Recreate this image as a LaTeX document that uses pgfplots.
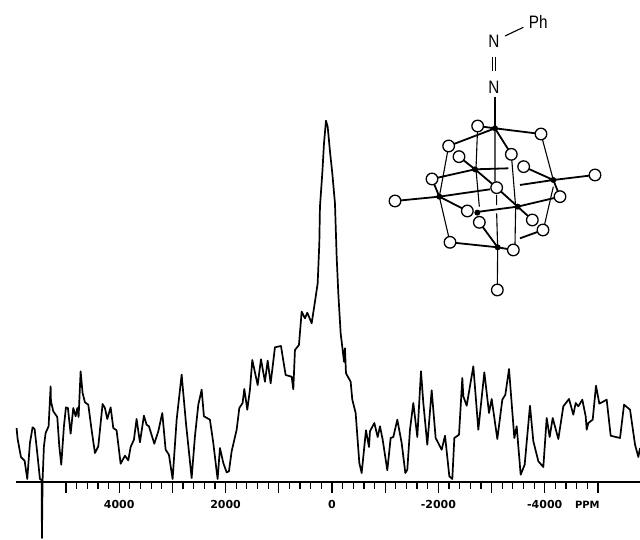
\documentclass[border=0pt]{standalone}
\usepackage{pgfplots}
\pgfplotsset{compat=1.18}
\usepackage{pgfplotstable}
\usepackage{fontspec}
\setmainfont{Liberation Sans}
\newfontfamily\axisfont{DejaVu Sans}
\pgfplotstableread{
ppm intensity
5929 54
5910 43.3
5847 25
5778 21.3
5728 3
5678 39
5628 54.7
5590 53
5540 29
5490 3
5459 2.3
5452 -56
5440 2.3
5415 35.7
5383 49
5327 55.7
5289 95.7
5283 80.7
5239 70.7
5164 65
5126 35.7
5089 17.3
5039 55.7
5001 74.7
4964 74
4913 48.3
4863 74
4819 65.7
4788 74
4763 65
4725 110.7
4688 89
4644 79.7
4581 77.3
4519 52.3
4456 29
4393 35.7
4312 78
4268 74
4224 63
4161 74.7
4111 54
4049 51.7
3973 18.3
3892 26.3
3829 21.7
3785 35
3723 42.3
3673 63
3610 39.7
3535 66.3
3485 57.3
3441 55.7
3340 38.3
3265 50.7
3190 69
3127 32.3
3065 27.3
2996 3
2920 62.3
2826 107.3
2745 59
2638 4
2576 45.7
2513 77.3
2450 92.3
2407 65.7
2294 62.3
2231 39
2168 10.7
2150 3
2106 34
2043 19
1980 9.7
1937 10.7
1886 30.7
1792 52.3
1742 74
1680 79
1648 93
1592 72.3
1542 92.3
1498 122
1397 97
1335 122.7
1260 100.3
1209 121.3
1153 98.7
1072 134.7
959 136
871 107
758 105.3
727 92.7
696 132
621 137
570 170.3
508 163.7
464 169.3
382 158.7
320 180.3
269 198.7
238 238.7
226 275.3
182 308.7
150 338.7
113 361.3
81 355.3
37 330.3
-6 308.7
-56 278.7
-88 225.3
-119 188.7
-163 148.7
-201 132
-226 120.3
-244 133.7
-263 108.7
-351 100.3
-382 82.3
-445 69
-514 19
-558 9
-639 51.7
-696 35
-714 50.7
-796 59
-859 45
-902 55.7
-953 42.3
-1040 11.7
-1103 44
-1153 45
-1228 62.3
-1310 39
-1379 9
-1416 12.3
-1466 52.3
-1529 79
-1604 45
-1673 110.7
-1717 79
-1792 37.3
-1874 91.7
-1949 44
-2062 32.3
-2125 46.3
-2206 5.7
-2262 3
-2300 44
-2388 47.3
-2450 104
-2469 85.7
-2532 76.3
-2657 115.7
-2751 52.3
-2864 109.7
-2952 69
-3002 83
-3108 43
-3202 82.3
-3259 87.3
-3328 113
-3428 44
-3472 55.7
-3547 7.3
-3622 17.3
-3722 76.3
-3785 40.7
-3879 20.7
-3973 15
-4036 64
-4092 45
-4149 64
-4255 43
-4349 75.7
-4456 83
-4537 67.3
-4581 79
-4631 75.7
-4706 82.3
-4769 65.7
-4788 52.3
-4819 59
-4901 62.3
-4963 96.3
-5026 78.3
-5164 82.3
-5239 46.3
-5415 44
-5490 77.3
-5603 72.3
-5697 37.3
-5759 25
-5790 34
}\spectrum
\begin{document}
\begin{tikzpicture}
\useasboundingbox (-16pt,-57pt) rectangle (624pt,482pt);
\begin{axis}[
  scale only axis, width=624pt, height=482pt,
  x dir=reverse, xmin=-5790, xmax=5940, ymin=0, ymax=482,
  clip=false,
  axis x line*=bottom, axis y line=none,
  axis line style={line width=2.2pt,-},
  xtick={-5000,-4000,-3000,-2000,-1000,0,1000,2000,3000,4000,5000},
  xticklabels={,{-4000},,{-2000},,0,,2000,,4000,},
  minor x tick num=4,
  tick align=outside, tick pos=bottom,
  major tick length=11pt, minor tick length=7pt,
  every tick/.style={black,line width=1.2pt},
  xticklabel style={font=\axisfont\bfseries\fontsize{11}{11}\selectfont, yshift=-4pt},
]
\addplot[black, line width=1.7pt, line join=round] table[x=ppm,y=intensity] {\spectrum};
\node[font=\axisfont\bfseries\fontsize{10}{10}\selectfont] at (axis cs:-4800,-23) {PPM};
\end{axis}
\begin{scope}[shift={(354pt,482pt)}, x=0.3333pt, y=-0.3333pt]
  \node[font=\fontsize{18}{18}\selectfont, xscale=.85] at (372,125) {N};
  \node[font=\fontsize{18}{18}\selectfont, xscale=.85] at (372,262) {N};
  \node[font=\fontsize{18}{18}\selectfont, xscale=.85] at (505,65) {Ph};
  \draw[line width=1.1pt] (405,108)--(460,82);
  \draw[line width=1pt] (367,170)--(367,212) (378,170)--(378,212);
  \draw[line width=1.1pt] (375,290)--(375,385);
  % thin bonds
  \draw[line width=1.1pt]
    (375,385)--(375,545)
    (323,378)--(318,508)--(328,620)
    (513,402)--(550,540)
    (236,438)--(208,590)
    (424,463)--(437,620)--(435,735)
    (550,560)--(520,690)
    (208,590)--(240,727)
    (380,585)--(380,615)
    (380,640)--(383,742)--(382,870);
  % heavy bonds
  \draw[line width=1.8pt]
    (323,378)--(375,385)--(513,402)
    (236,438)--(375,385)--(424,463)
    (267,470)--(315,508)--(415,505)
    (186,537)--(315,508)--(380,563)--(443,620)
    (461,500)--(550,540)--(675,525)
    (450,555)--(550,540)--(570,590)
    (75,603)--(208,590)--(360,568)
    (186,537)--(208,590)--(292,633)
    (328,635)--(443,620)--(570,590)
    (443,620)--(487,660)
    (240,727)--(383,742)--(430,750)
    (328,667)--(383,742)
    (450,715)--(519,690);
  \foreach \x/\y in {323/378,513/402,236/438,267/470,424/463,461/500,186/537,380/563,675/525,75/603,570/590,292/633,328/667,487/660,519/690,240/727,430/750,382/870}
    \draw[fill=white,line width=1.3pt] (\x,\y) circle[radius=5.8pt];
  \foreach \x/\y in {375/385,315/508,550/540,208/590,443/620,383/742,322/638}
    \fill[black] (\x,\y) circle[radius=3pt];
\end{scope}
\end{tikzpicture}
\end{document}
